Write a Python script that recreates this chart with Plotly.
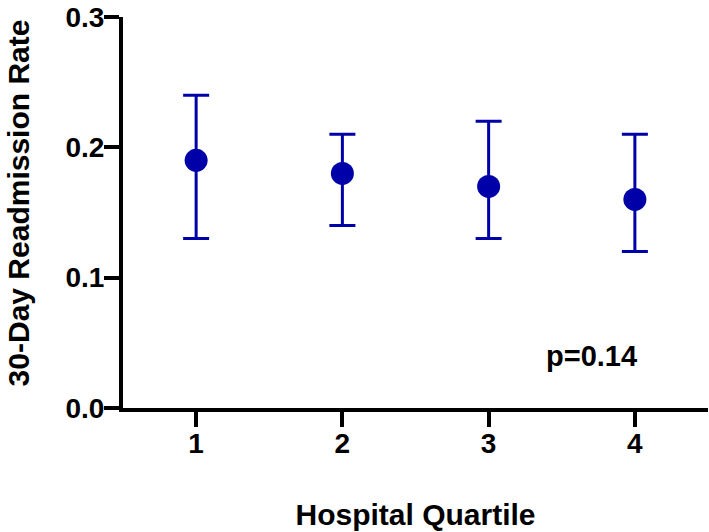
import plotly.graph_objects as go

quartiles = [1, 2, 3, 4]
rates = [0.19, 0.18, 0.17, 0.16]
upper = [0.24, 0.21, 0.22, 0.21]
lower = [0.13, 0.14, 0.13, 0.12]
y_ticks = [0.0, 0.1, 0.2, 0.3]

err_plus = [u - r for u, r in zip(upper, rates)]
err_minus = [r - l for r, l in zip(rates, lower)]

blue = "#0000A8"

fig = go.Figure()
fig.add_trace(go.Scatter(
    x=quartiles, y=rates, mode="markers",
    marker=dict(size=23, color=blue),
    error_y=dict(type="data", symmetric=False, array=err_plus, arrayminus=err_minus,
                 color=blue, thickness=3, width=13),
    showlegend=False,
))

fig.update_layout(
    width=709, height=532,
    margin=dict(l=123, r=1, t=17, b=124),
    plot_bgcolor="white", paper_bgcolor="white",
    font=dict(family="Liberation Sans, Arial, sans-serif", color="black", weight="bold"),
    xaxis=dict(
        range=[0.5, 4.5], tickvals=quartiles, showgrid=False, zeroline=False,
        showline=True, linewidth=4, linecolor="black", automargin=False,
        ticks="outside", ticklen=15, tickwidth=4, tickcolor="black",
        tickfont=dict(size=28), ticklabelstandoff=-8,
        title=dict(text="Hospital Quartile", font=dict(size=30, weight="bold"), standoff=47),
    ),
    yaxis=dict(
        range=[0, 0.3], tickvals=y_ticks, tickformat=".1f", showgrid=False, zeroline=False,
        showline=True, linewidth=4, linecolor="black", automargin=False,
        ticks="outside", ticklen=15, tickwidth=4, tickcolor="black",
        tickfont=dict(size=28), ticklabelstandoff=-6,
    ),
    annotations=[
        dict(text="30-Day Readmission Rate", textangle=-90,
             xref="paper", yref="paper", x=-0.21, y=0.525,
             xanchor="left", yanchor="middle", showarrow=False,
             font=dict(size=30, weight="bold")),
        dict(text="p=0.14", xref="x", yref="y", x=3.7, y=0.04,
             xanchor="center", yanchor="middle", showarrow=False,
             font=dict(size=29, weight="bold")),
    ],
)

# the page's default body margin would shift the 709x532 figure
fig.write_html("out.html", config={"displayModeBar": False},
               post_script="document.body.style.margin='0';")
